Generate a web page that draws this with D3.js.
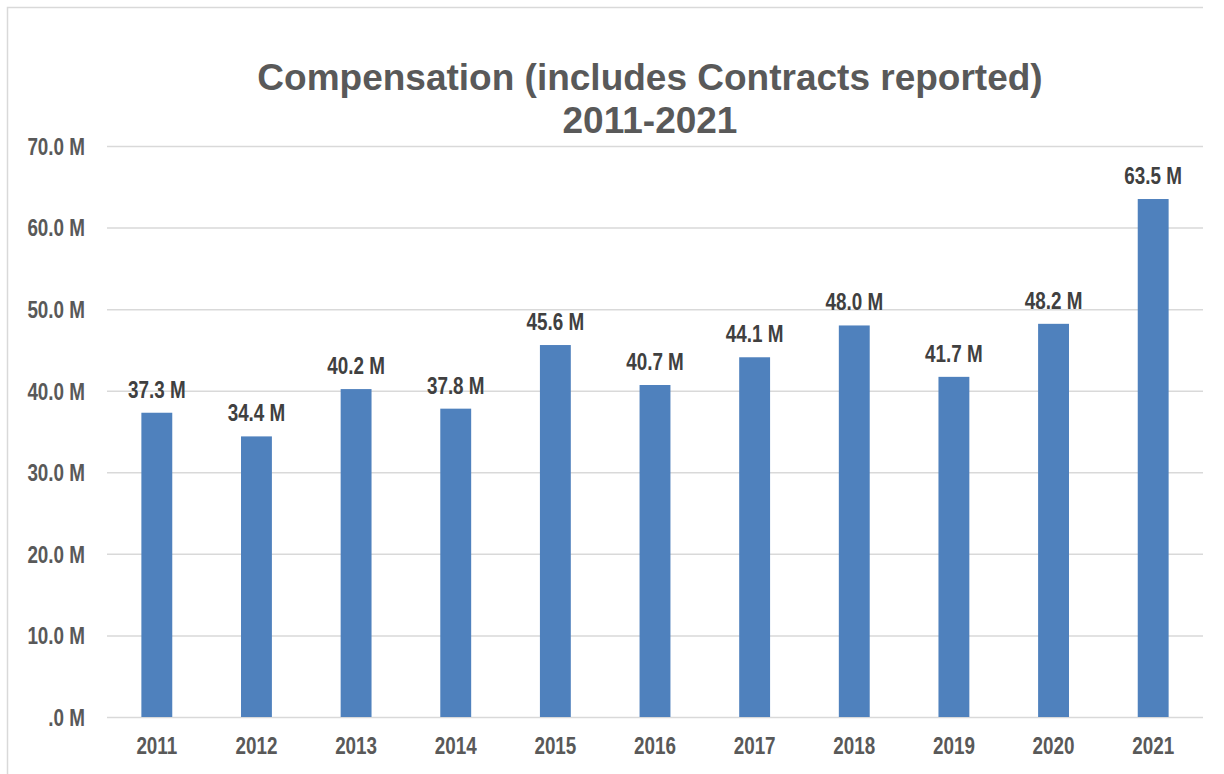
<!DOCTYPE html>
<meta charset="utf-8">
<style>
  body { margin: 0; background: #fff; }
  .lab { font-family: "Liberation Sans", Arial, sans-serif; font-weight: bold; font-size: 23px; }
</style>
<body>
<script src="https://d3js.org/d3.v7.min.js"></script>
<script>
  // chart data
  var years = ['2011', '2012', '2013', '2014', '2015', '2016', '2017', '2018', '2019', '2020', '2021'];
  var comp = [37.3, 34.4, 40.2, 37.8, 45.6, 40.7, 44.1, 48.0, 41.7, 48.2, 63.5];
  var yTicks = [0, 10, 20, 30, 40, 50, 60, 70];

  var W = 1224, H = 774;
  var mLeft = 107, mRight = 1203, mTop = 146, mBottom = 717;
  var narrow = 0.82; // labels look like Arial Narrow, squeeze Liberation Sans

  var svg = d3.select('body').append('svg').attr('width', W).attr('height', H);

  // outer frame (only top and left show in the picture)
  svg.append('path')
    .attr('d', 'M7.5,774 V7.5 H1203')
    .attr('fill', 'none').attr('stroke', '#d9d9d9').attr('stroke-width', 1.5);

  var x = d3.scaleBand().domain(years).range([mLeft, mRight]).paddingInner(0.69).paddingOuter(0.345);
  var y = d3.scaleLinear().domain([0, 70]).range([mBottom, mTop]);

  // gridlines + y labels
  var yAxis = d3.axisLeft(y).tickValues(yTicks).tickSize(-(mRight - mLeft)).tickPadding(22)
    .tickFormat(function (d) { return d === 0 ? '.0 M' : d.toFixed(1) + ' M'; });
  var gy = svg.append('g').attr('transform', 'translate(' + mLeft + ',0)').call(yAxis);
  gy.select('.domain').remove();
  gy.selectAll('line').attr('stroke', '#d9d9d9').attr('stroke-width', 1.5);
  gy.selectAll('text').attr('class', 'lab').attr('fill', '#595959').attr('dy', '0.36em')
    .attr('x', -22 / narrow).attr('transform', 'scale(' + narrow + ',1)');

  // bars
  svg.selectAll('rect.bar').data(comp).enter().append('rect')
    .attr('class', 'bar')
    .attr('x', function (d, i) { return x(years[i]); })
    .attr('width', x.bandwidth())
    .attr('y', function (d) { return y(d); })
    .attr('height', function (d) { return y(0) - y(d); })
    .attr('fill', '#4f81bd');

  // value labels
  svg.selectAll('g.val').data(comp).enter().append('g')
    .attr('class', 'val')
    .attr('transform', function (d, i) {
      return 'translate(' + (x(years[i]) + x.bandwidth() / 2) + ',' + (y(d) - 15) + ')';
    })
    .append('text')
    .attr('class', 'lab')
    .attr('text-anchor', 'middle')
    .attr('transform', 'scale(' + narrow + ',1)')
    .attr('fill', '#404040')
    .text(function (d) { return d.toFixed(1) + ' M'; });

  // x axis labels
  var xAxis = d3.axisBottom(x).tickSize(0).tickPadding(21);
  var gx = svg.append('g').attr('transform', 'translate(0,' + mBottom + ')').call(xAxis);
  gx.select('.domain').remove();
  gx.selectAll('text').attr('class', 'lab').attr('fill', '#595959')
    .attr('transform', 'scale(' + narrow + ',1)');

  // title
  var title = svg.append('text')
    .attr('x', 650).attr('y', 90)
    .attr('text-anchor', 'middle')
    .attr('font-family', '"Liberation Sans", Arial, sans-serif')
    .attr('font-weight', 'bold').attr('font-size', 37)
    .attr('fill', '#595959');
  title.append('tspan').attr('x', 650).text('Compensation (includes Contracts reported)');
  title.append('tspan').attr('x', 650).attr('dy', 43).text('2011-2021');
</script>
</body>
